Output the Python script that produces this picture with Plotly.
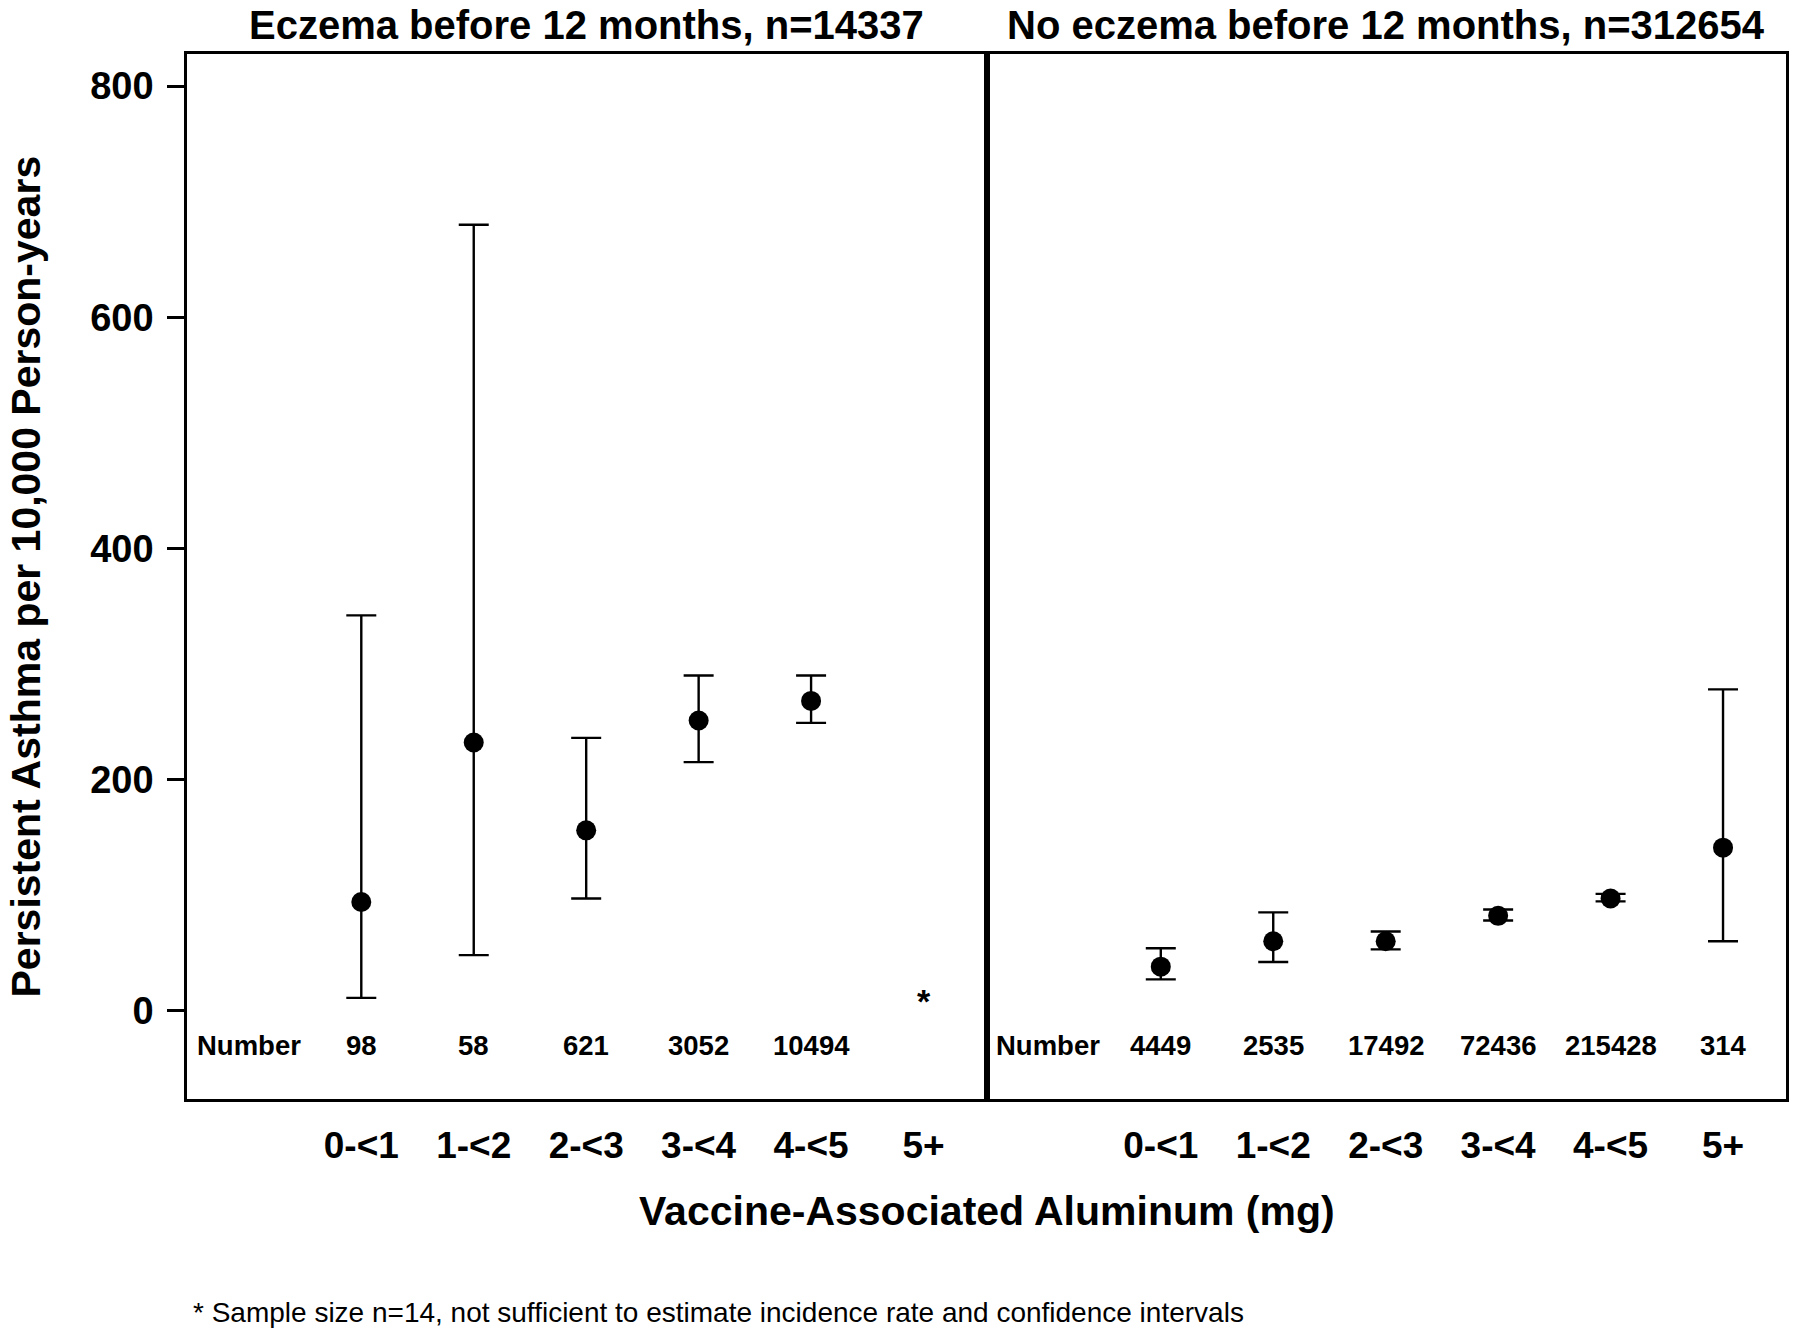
import plotly.graph_objects as go
from plotly.subplots import make_subplots

# Data
categories = ["0-<1", "1-<2", "2-<3", "3-<4", "4-<5", "5+"]
positions = [1, 2, 3, 4, 5, 6]

# Eczema before 12 months (5+ not estimable, n=14)
ecz_rate = [94, 232, 156, 251, 268, None]
ecz_low = [11, 48, 97, 215, 249, None]
ecz_high = [342, 680, 236, 290, 290, None]
ecz_number = ["98", "58", "621", "3052", "10494", ""]

# No eczema before 12 months
no_rate = [38, 60, 60, 82, 97, 141]
no_low = [27, 42, 53, 78, 94.5, 60]
no_high = [54, 85, 68.5, 87.5, 101, 278]
no_number = ["4449", "2535", "17492", "72436", "215428", "314"]

panel_titles = ["Eczema before 12 months, n=14337", "No eczema before 12 months, n=312654"]
y_ticks = [0, 200, 400, 600, 800]

FONT = "Liberation Sans, Arial, sans-serif"
NUMBER_ROW = -30

fig = make_subplots(rows=1, cols=2, shared_yaxes=True, horizontal_spacing=0)


def add_panel(rate, low, high, col):
    plus = [h - r if r is not None else None for r, h in zip(rate, high)]
    minus = [r - l if r is not None else None for r, l in zip(rate, low)]
    fig.add_trace(go.Scatter(
        x=positions, y=rate, mode="markers",
        marker=dict(color="black", size=20, symbol="circle"),
        error_y=dict(type="data", array=plus, arrayminus=minus,
                     color="black", thickness=2.4, width=15),
        showlegend=False,
    ), row=1, col=col)


add_panel(ecz_rate, ecz_low, ecz_high, 1)
add_panel(no_rate, no_low, no_high, 2)

annotations = []
for col, numbers in [(1, ecz_number), (2, no_number)]:
    xref = "x" if col == 1 else "x2"
    yref = "y" if col == 1 else "y2"
    annotations.append(dict(x=0, y=NUMBER_ROW, xref=xref, yref=yref, text="Number",
                            showarrow=False, font=dict(size=27.5, weight="bold")))
    for p, n in zip(positions, numbers):
        if n:
            annotations.append(dict(x=p, y=NUMBER_ROW, xref=xref, yref=yref, text=n,
                                    showarrow=False, font=dict(size=27.5, weight="bold")))

# asterisk for the non-estimable 5+ group
annotations.append(dict(x=6, y=8, xref="x", yref="y", text="*", showarrow=False,
                        font=dict(size=34, weight="bold")))

# panel titles
for i, t in enumerate(panel_titles):
    annotations.append(dict(x=0.25 + 0.5 * i, y=1, xref="paper", yref="paper", text=t,
                            showarrow=False, xanchor="center", yanchor="middle", yshift=29,
                            font=dict(size=40, weight="bold")))

annotations.append(dict(x=0.5, y=0, xref="paper", yref="paper",
                        text="Vaccine-Associated Aluminum (mg)", showarrow=False,
                        xanchor="center", yanchor="middle", yshift=-112,
                        font=dict(size=41, weight="bold")))
annotations.append(dict(x=0, y=0.5, xref="paper", yref="paper",
                        text="Persistent Asthma per 10,000 Person-years", showarrow=False,
                        textangle=-90, xanchor="center", yanchor="middle", xshift=-162,
                        font=dict(size=41, weight="bold")))
annotations.append(dict(x=0, y=0, xref="paper", yref="paper",
                        text="* Sample size n=14, not sufficient to estimate incidence rate and confidence intervals",
                        showarrow=False, xanchor="left", yanchor="middle", xshift=4, yshift=-213,
                        font=dict(size=28)))

axis_common = dict(range=[-0.55, 6.56], tickvals=positions, ticktext=categories,
                   showgrid=False, zeroline=False, showline=True, linecolor="black",
                   linewidth=2.5, mirror=True, ticks="", ticklabelstandoff=12,
                   tickfont=dict(size=37, weight="bold", color="black"))
fig.update_xaxes(**axis_common)

fig.update_yaxes(range=[-76.5, 827.8], showgrid=False, zeroline=False, showline=True,
                 linecolor="black", linewidth=2.5, mirror=True)
fig.update_yaxes(tickvals=y_ticks, ticks="outside", ticklen=17, tickwidth=2.5,
                 tickcolor="black", ticklabelstandoff=6,
                 tickfont=dict(size=38, weight="bold", color="black"), row=1, col=1)
fig.update_yaxes(showticklabels=False, ticks="", row=1, col=2)

# thicker divider between the two panels
fig.add_shape(type="line", xref="paper", yref="paper", x0=0.5, x1=0.5, y0=0, y1=1,
              line=dict(color="black", width=4.5))

# page body adds an 8px offset, so the figure is 8px smaller than the window
fig.update_layout(
    width=1792, height=1329,
    margin=dict(l=179, r=11, t=46, b=238),
    plot_bgcolor="white", paper_bgcolor="white",
    font=dict(family=FONT, color="black"),
    annotations=annotations,
)

fig.write_html("out.html")
